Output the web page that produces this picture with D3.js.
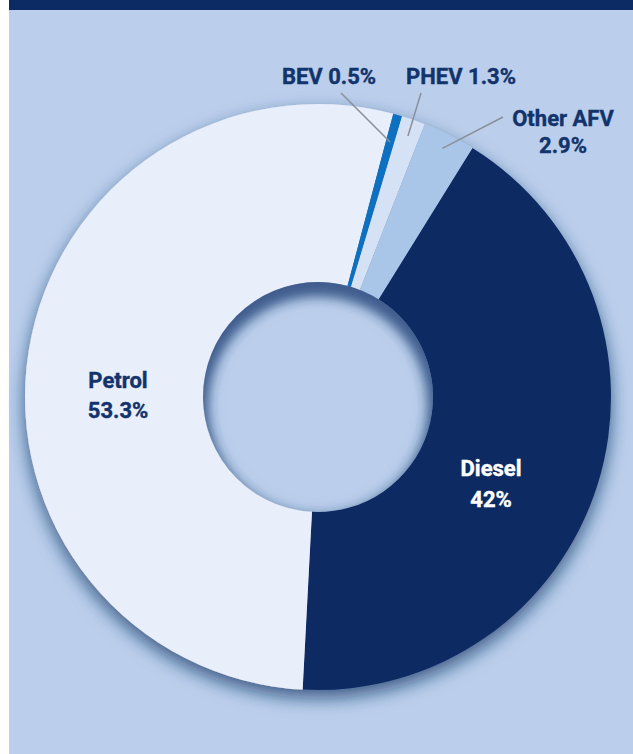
<!DOCTYPE html>
<html><head><meta charset="utf-8">
<script src="https://cdn.jsdelivr.net/npm/d3@7"></script>
<style>
html,body{margin:0;padding:0;background:#fff;}
svg{display:block;}
text{font-family:Roboto,"Noto Sans",sans-serif;font-weight:700;fill:#12336b;}
</style></head>
<body>
<script>
const categories = ["Diesel", "Petrol", "BEV", "PHEV", "Other AFV"];
const values = [42, 53.3, 0.5, 1.3, 2.9];
const valueLabels = ["42%", "53.3%", "0.5%", "1.3%", "2.9%"];
const colors = ["#0c2b64", "#e8eefa", "#0a6fc0", "#d5e2f6", "#a9c6e8"];

const W = 633, H = 754;
const cx = 318, cy = 397, R = 293, r0 = 115;
const startDeg = 31.8;

const svg = d3.select("body").append("svg").attr("width", W).attr("height", H);
const defs = svg.append("defs");

const ds = defs.append("filter").attr("id","ds").attr("x","-20%").attr("y","-20%").attr("width","140%").attr("height","140%");
ds.append("feDropShadow").attr("dx",0).attr("dy",8).attr("stdDeviation",9)
  .attr("flood-color","#173466").attr("flood-opacity",0.75);

const blur = defs.append("filter").attr("id","blur").attr("x","-50%").attr("y","-50%").attr("width","200%").attr("height","200%");
blur.append("feGaussianBlur").attr("stdDeviation",6);

defs.append("clipPath").attr("id","holeClip").append("circle").attr("cx",cx).attr("cy",cy).attr("r",r0);

// background
svg.append("rect").attr("x",0).attr("y",0).attr("width",W).attr("height",H).attr("fill","#ffffff");
svg.append("rect").attr("x",9).attr("y",0).attr("width",W-9).attr("height",H).attr("fill","#bbcfec");
svg.append("rect").attr("x",9).attr("y",0).attr("width",W-9).attr("height",10).attr("fill","#0c2b64");

const pie = d3.pie().sort(null).value(d => d.v)
  .startAngle(startDeg*Math.PI/180).endAngle(startDeg*Math.PI/180 + 2*Math.PI);
const data = categories.map((c,i)=>({c, v:values[i], lab:valueLabels[i], col:colors[i]}));
const arcs = pie(data);
const arc = d3.arc().innerRadius(r0).outerRadius(R);

const g = svg.append("g").attr("transform",`translate(${cx},${cy})`);
const donut = g.append("g").attr("filter","url(#ds)");
donut.selectAll("path").data(arcs).join("path")
  .attr("d",arc).attr("fill",d=>d.data.col);

// inner shadow of hole
const hole = svg.append("g").attr("clip-path","url(#holeClip)");
hole.append("path")
  .attr("fill-rule","evenodd")
  .attr("fill","#3d5a8c")
  .attr("opacity",0.9)
  .attr("filter","url(#blur)")
  .attr("d", `M${cx-r0-60},${cy-r0-60}h${2*r0+120}v${2*r0+120}h${-(2*r0+120)}Z ` +
    `M${cx-r0+3},${cy+10} a${r0-3},${r0-3} 0 1,0 ${2*(r0-3)},0 a${r0-3},${r0-3} 0 1,0 ${-2*(r0-3)},0Z`);

// inside labels
const inside = [
  {i:1, ang:269, rad:200},
  {i:0, ang:118, rad:196}
];
inside.forEach(o=>{
  const a = o.ang*Math.PI/180;
  const x = o.rad*Math.sin(a), y = -o.rad*Math.cos(a);
  const c = o.i===0 ? "#ffffff" : "#12336b";
  const t = g.append("text").attr("text-anchor","middle").attr("font-size",22)
    .style("fill", c).style("stroke", c).style("stroke-width", 0.4);
  t.append("tspan").attr("x",x).attr("y",y-13).text(categories[o.i]);
  t.append("tspan").attr("x",x).attr("y",y+18).text(valueLabels[o.i]);
});

// outside labels with leader lines
const outside = [
  {i:2, lineR:265, tx:329, ty:84, lx:341, ly:93, lines:[categories[2]+" "+valueLabels[2]]},
  {i:3, lineR:276, tx:461, ty:84, lx:421, ly:93, lines:[categories[3]+" "+valueLabels[3]]},
  {i:4, lineR:278, tx:563, ty:126, lx:503, ly:117, lines:[categories[4], valueLabels[4]]}
];
outside.forEach(o=>{
  const d = arcs[o.i];
  const m = (d.startAngle + d.endAngle)/2;
  const ex = cx + o.lineR*Math.sin(m), ey = cy - o.lineR*Math.cos(m);
  svg.append("line").attr("x1",o.lx).attr("y1",o.ly).attr("x2",ex).attr("y2",ey)
    .attr("stroke","#8a9099").attr("stroke-width",1.5);
  const t = svg.append("text").attr("text-anchor","middle").attr("font-size",22)
    .style("stroke","#12336b").style("stroke-width",0.4);
  o.lines.forEach((s,k)=> t.append("tspan").attr("x",o.tx).attr("y",o.ty+k*27).text(s));
});
</script>
</body></html>
